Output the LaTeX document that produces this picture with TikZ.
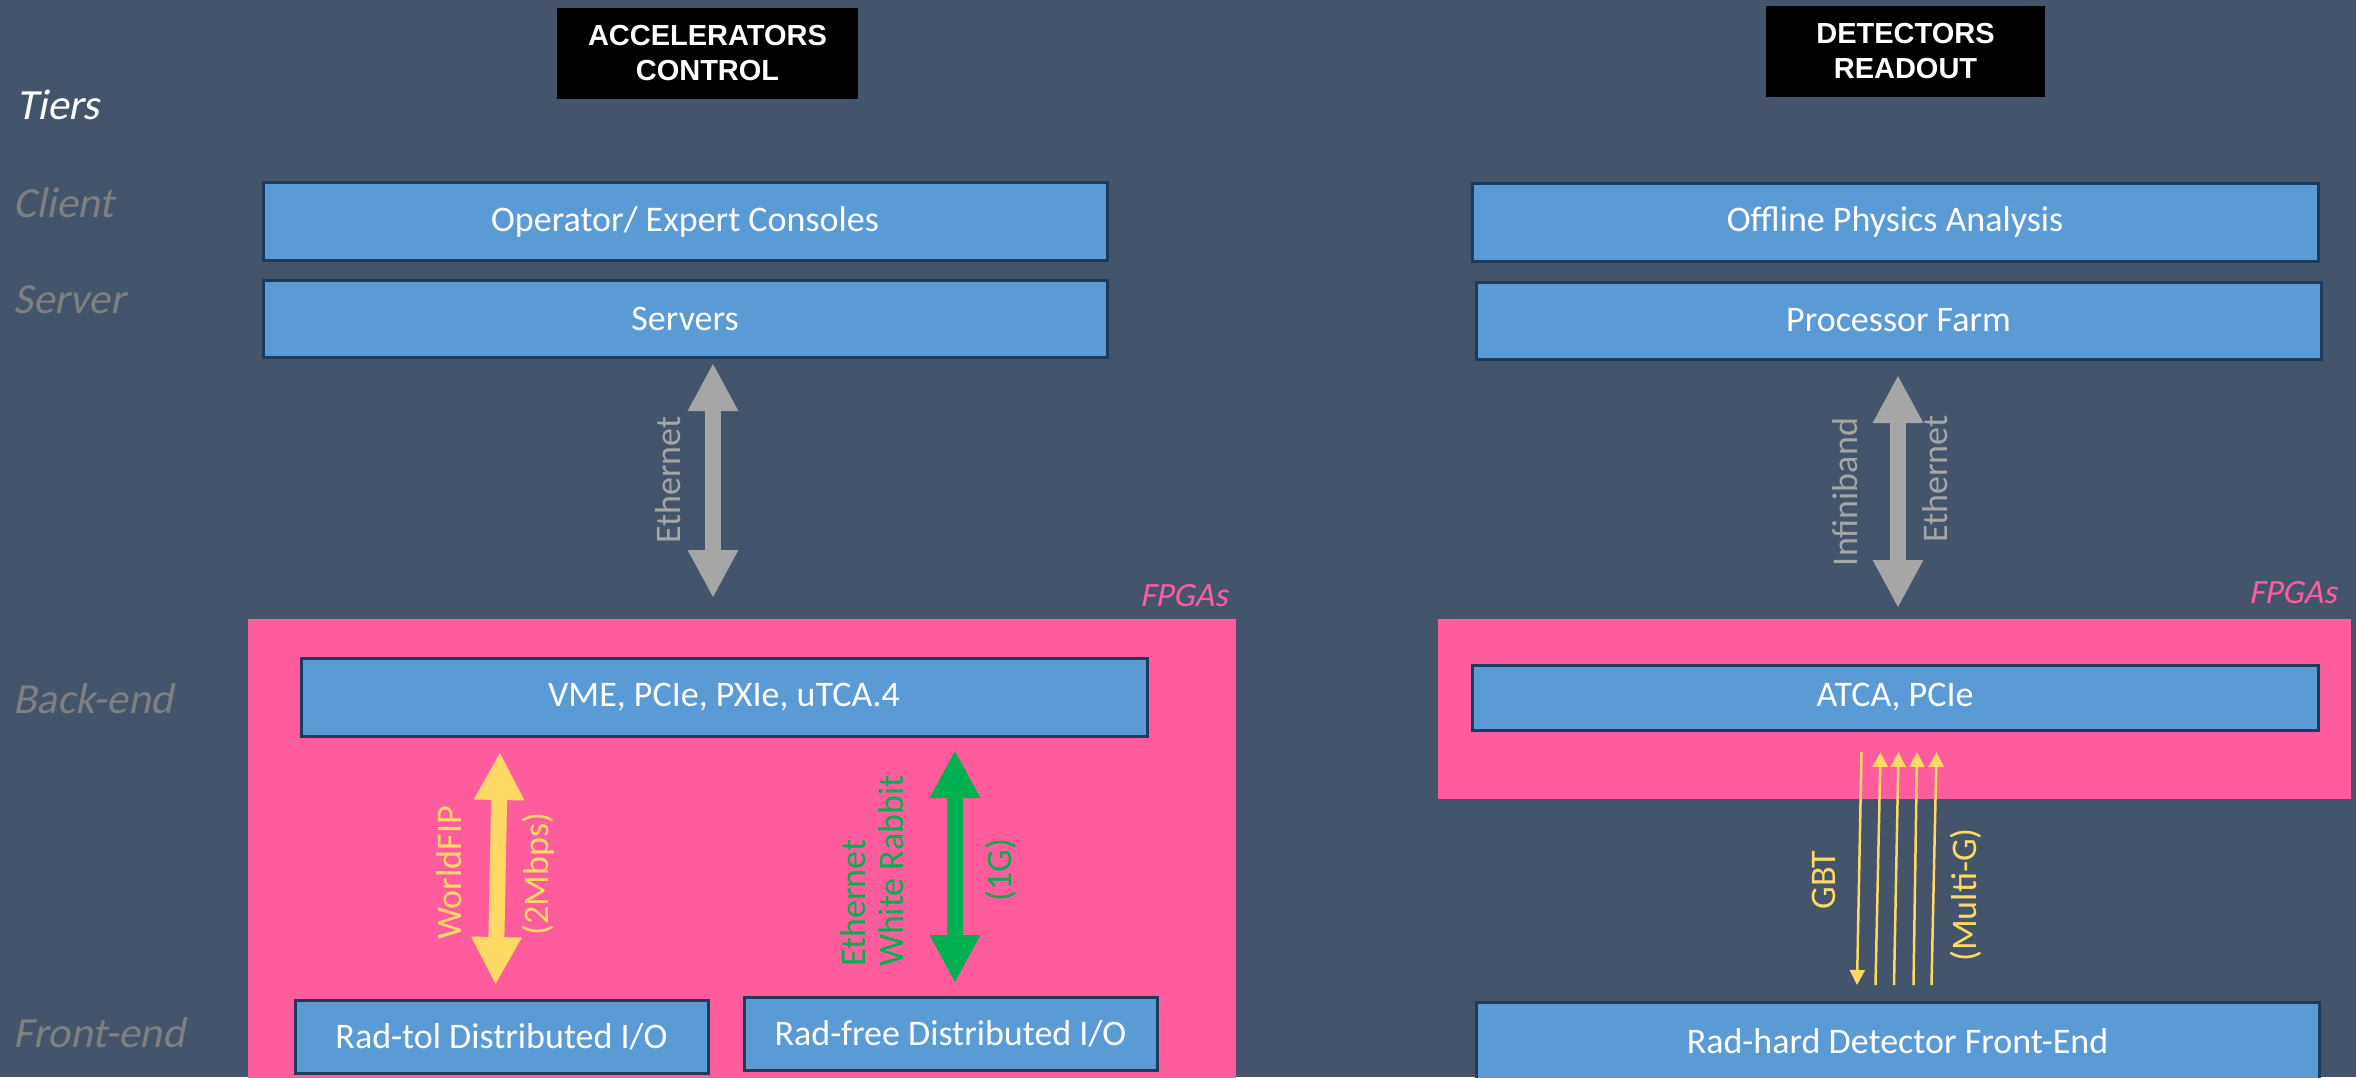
\documentclass[tikz,border=0pt]{standalone}
\usepackage{fontspec}
\setmainfont{Carlito}
\newfontfamily\hdfont{Liberation Sans}
\newfontfamily\slfont[FakeSlant=0.2]{Carlito}
\usetikzlibrary{arrows.meta}
\definecolor{bgc}{HTML}{44546A}
\definecolor{boxfill}{HTML}{5B9BD5}
\definecolor{boxline}{HTML}{1F3B5C}
\definecolor{pinkc}{HTML}{FF5C9D}
\definecolor{yelc}{HTML}{FFD966}
\definecolor{grnc}{HTML}{00B050}
\definecolor{gryc}{HTML}{A6A6A6}
\definecolor{tierc}{HTML}{7F7F7F}
\tikzset{
  blbox/.style={draw=boxline, line width=1.5pt, fill=boxfill, text=white, inner sep=0pt,
    font=\fontsize{18pt}{21pt}\selectfont},
  hdbox/.style={fill=black, text=white, align=center, inner sep=0pt,
    font=\hdfont\bfseries\fontsize{14.5pt}{17.5pt}\selectfont},
  tier/.style={anchor=base west, inner sep=0pt, text=tierc, font=\slfont\fontsize{21.5pt}{24pt}\selectfont},
  fpga/.style={anchor=base east, inner sep=0pt, text=pinkc, font=\slfont\fontsize{17pt}{20pt}\selectfont},
  vlabel/.style={rotate=90, inner sep=0pt, font=\fontsize{18pt}{19pt}\selectfont},
  fatarrow/.style={line width=8pt, arrows={Triangle[length=24pt,width=23.5pt]-Triangle[length=24pt,width=23.5pt]}},
  thinarrow/.style={line width=1.25pt, draw=yelc, arrows={-Triangle[length=7.5pt,width=7.5pt]}}
}
\begin{document}
\begin{tikzpicture}[x=0.5pt,y=-0.5pt]
\useasboundingbox (0,0) rectangle (2356,1077);
\clip (0,0) rectangle (2356,1077);
\fill[bgc] (0,0) rectangle (2356,1077);

% header boxes
\node[hdbox, minimum width=150.5pt, minimum height=45.5pt] (hacc) at (707.5,53.5) {ACCELERATORS\\CONTROL};
\node[hdbox, minimum width=139.5pt, minimum height=45.5pt] (hdet) at (1905.5,51.5) {DETECTORS\\READOUT};

% tier labels
\node[tier, text=white] (ttiers) at (16,119) {Tiers};
\node[tier] (tclient) at (13,217) {Client};
\node[tier] (tserver) at (13,313) {Server};
\node[tier] (tback) at (13,713) {Back-end};
\node[tier] (tfront) at (13,1047) {Front-end};

% FPGA areas
\fill[pinkc] (248,619) rectangle (1236,1090);
\fill[pinkc] (1438,619) rectangle (2351,799);
\node[fpga] (fpgaL) at (1228,606) {FPGAs};
\node[fpga] (fpgaR) at (2337,603) {FPGAs};

% left column boxes
\node[blbox, minimum width=422pt, minimum height=39pt] (op) at (685,221.5) {Operator/ Expert Consoles};
\node[blbox, minimum width=422pt, minimum height=38.5pt] (srv) at (685,318.5) {Servers};
\node[blbox, minimum width=423pt, minimum height=39pt] (vme) at (724,697) {VME, PCIe, PXIe, uTCA.4};
\node[blbox, minimum width=206.5pt, minimum height=36.5pt] (radtol) at (501.5,1036.5) {Rad-tol Distributed I/O};
\node[blbox, minimum width=206.5pt, minimum height=36.5pt] (radfree) at (950.5,1033.5) {Rad-free Distributed I/O};

% right column boxes
\node[blbox, minimum width=423pt, minimum height=39pt] (off) at (1895,222) {Offline Physics Analysis};
\node[blbox, minimum width=422.5pt, minimum height=38.5pt] (pf) at (1898.5,320.5) {Processor Farm};
\node[blbox, minimum width=423pt, minimum height=32.5pt] (atca) at (1895,697.5) {ATCA, PCIe};
\node[blbox, minimum width=421.5pt, minimum height=41.5pt] (radhard) at (1897.5,1043.5) {};
\node[text=white, inner sep=0pt, font=\fontsize{18pt}{21pt}\selectfont] (radhardt) at (1897.5,1041) {Rad-hard Detector Front-End};

% arrow end points
\coordinate (g1t) at (713,363);
\coordinate (g1b) at (713,598);
\coordinate (g2t) at (1898,375);
\coordinate (g2b) at (1898,608);
\coordinate (y1t) at (500,752);
\coordinate (y1b) at (495.5,985);
\coordinate (gr1t) at (955,750);
\coordinate (gr1b) at (955,983);
\coordinate (d0t) at (1861.5,752);
\coordinate (d0b) at (1857,985);
\coordinate (u1t) at (1880.5,752);
\coordinate (u1b) at (1875.5,985);
\coordinate (u2t) at (1898.5,752);
\coordinate (u2b) at (1894,985);
\coordinate (u3t) at (1917,752);
\coordinate (u3b) at (1913.5,985);
\coordinate (u4t) at (1936.5,752);
\coordinate (u4b) at (1931.5,985);

% thick arrows
\draw[fatarrow, draw=gryc, fill=gryc] (g1t) -- (g1b);
\draw[fatarrow, draw=gryc, fill=gryc] (g2t) -- (g2b);
\draw[fatarrow, draw=yelc, fill=yelc] (y1t) -- (y1b);
\draw[fatarrow, draw=grnc, fill=grnc] (gr1t) -- (gr1b);

% thin GBT arrows
\draw[thinarrow] (d0t) -- (d0b);
\draw[thinarrow] (u1b) -- (u1t);
\draw[thinarrow] (u2b) -- (u2t);
\draw[thinarrow] (u3b) -- (u3t);
\draw[thinarrow] (u4b) -- (u4t);

% rotated labels
\node[vlabel, text=gryc] (leth) at (668,480) {Ethernet};
\node[vlabel, text=gryc] (linf) at (1845,492) {Infiniband};
\node[vlabel, text=gryc] (reth) at (1935,479) {Ethernet};
\node[vlabel, text=yelc] (lwfip) at (449,873) {WorldFIP};
\node[vlabel, text=yelc] (l2m) at (538,874) {(2Mbps)};
\node[vlabel, text=grnc, align=left] (lwr) at (872,871) {Ethernet\\White Rabbit};
\node[vlabel, text=grnc] (l1g) at (1001,870) {(1G)};
\node[vlabel, text=yelc] (lgbt) at (1824,880) {GBT};
\node[vlabel, text=yelc] (lmg) at (1966,895) {(Multi-G)};
\end{tikzpicture}
\end{document}
